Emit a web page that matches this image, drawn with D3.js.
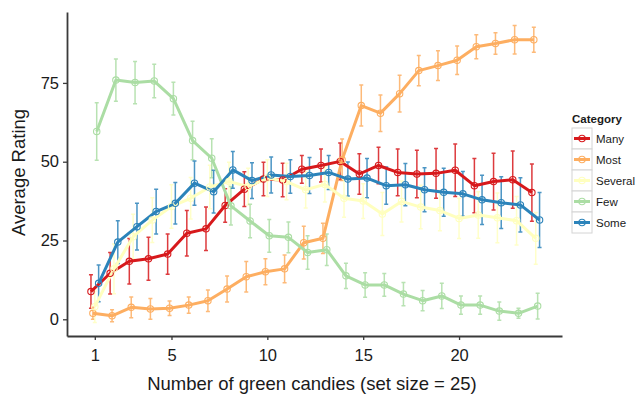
<!DOCTYPE html>
<html>

<head>
    <meta charset="utf-8" />
    <title>Green candies</title>
    <script src="https://d3js.org/d3.v7.min.js"></script>
</head>

<body style="margin:0; background:#fff;">
    <style>
        text {
            font-family: "Liberation Sans", Arial, sans-serif;
        }
    </style>
    <div class="chart"></div>

    <script>
        // x values (number of green candies)
        var candies = [1, 2, 3, 4, 5, 6, 7, 8, 9, 10, 11, 12, 13, 14, 15, 16, 17, 18, 19, 20, 21, 22, 23, 24];
        var xTicks = [1, 5, 10, 15, 20];
        var yTicks = [0, 25, 50, 75];

        var categories = ["Many", "Most", "Several", "Few", "Some"];
        var colors = ["#d7191c", "#fdae61", "#ffffbf", "#abdda4", "#2b83ba"];

        // mean ratings
        var many = [8.8, 14.6, 18.4, 19.2, 20.7, 27.3, 28.7, 36.1, 41.3, 44.5, 44.2, 47.6, 48.8, 50.1, 46.1, 48.8, 46.6, 46.1, 46.3, 47.3, 42.4, 43.7, 44.3, 40.2];
        var most = [1.9, 1.1, 3.8, 3.3, 3.5, 4.5, 5.9, 9.6, 13.5, 15.1, 16.0, 24.3, 25.7, 50.6, 67.8, 65.4, 71.6, 78.9, 80.5, 82.2, 86.5, 87.5, 88.7, 88.7];
        var several = [4.0, 16.0, 26.2, 31.5, 35.8, 38.4, 42.0, 43.7, 42.1, 44.8, 43.7, 41.1, 42.8, 38.4, 37.5, 33.4, 37.4, 35.6, 34.5, 32.0, 33.1, 32.2, 31.3, 25.7];
        var few = [59.6, 75.9, 75.1, 75.6, 70.0, 56.7, 51.1, 36.0, 31.2, 26.5, 26.0, 21.2, 22.1, 13.8, 10.9, 10.9, 8.0, 5.9, 7.4, 4.5, 4.5, 2.6, 1.9, 4.2];
        var some = [11.4, 24.5, 29.4, 34.2, 36.8, 43.2, 40.5, 47.4, 44.0, 45.8, 45.3, 45.6, 46.6, 44.5, 44.8, 42.4, 42.7, 41.1, 40.3, 39.8, 37.9, 37.0, 36.3, 31.5];

        // error bar half-lengths
        var manyErr = [5.3, 6.6, 7.2, 6.8, 6.4, 7.2, 6.9, 5.3, 5.5, 5.3, 5.3, 4.4, 5.2, 5.8, 6.4, 5.8, 7.4, 7.5, 7.9, 8.3, 8.6, 9.0, 9.1, 9.1];
        var mostErr = [1.9, 1.9, 3.3, 3.3, 2.3, 2.6, 3.4, 4.1, 4.8, 4.1, 4.4, 5.2, 4.8, 6.6, 6.5, 5.8, 5.8, 4.8, 4.7, 4.5, 3.8, 3.4, 4.5, 4.0];
        var severalErr = [5.0, 7.9, 7.1, 7.1, 6.9, 6.6, 6.9, 6.1, 5.8, 5.8, 5.8, 5.8, 5.6, 6.0, 5.5, 6.8, 6.5, 6.9, 6.4, 6.4, 7.4, 7.9, 7.7, 8.2];
        var fewErr = [9.1, 6.7, 6.7, 5.3, 5.2, 6.1, 6.2, 6.1, 5.3, 5.2, 4.9, 5.3, 5.0, 4.0, 3.9, 3.6, 3.7, 3.2, 4.0, 2.9, 2.9, 2.9, 1.6, 4.1];
        var someErr = [5.8, 6.8, 7.4, 7.1, 6.6, 7.0, 6.8, 5.8, 5.7, 5.7, 5.3, 5.7, 5.4, 5.4, 6.2, 5.9, 6.7, 7.0, 7.6, 7.1, 7.8, 8.2, 8.6, 8.7];

        var means = [many, most, several, few, some];
        var errs = [manyErr, mostErr, severalErr, fewErr, someErr];

        // building one table of points per category (dodged a bit along x)
        var series = categories.map(function (name, k) {
            return {
                name: name,
                color: colors[k],
                points: candies.map(function (c, i) {
                    return { x: c + (k - 2) * 0.1, y: means[k][i], e: errs[k][i] };
                })
            };
        });

        const w = 635;
        const h = 395;

        let svg = d3.select('.chart')
            .append('svg')
            .attr('width', w)
            .attr('height', h);

        let x = d3.scaleLinear().domain([-0.45, 25.37]).range([67, 562]);
        let y = d3.scaleLinear().domain([-5.3, 97.5]).range([336, 12]);

        // axes
        let yAxis = svg.append('g')
            .attr('transform', 'translate(67,0)')
            .call(d3.axisLeft(y).tickValues(yTicks).tickSize(4).tickSizeOuter(0).tickPadding(4));
        let xAxis = svg.append('g')
            .attr('transform', 'translate(0,336)')
            .call(d3.axisBottom(x).tickValues(xTicks).tickSize(4).tickSizeOuter(0).tickPadding(9));

        [xAxis, yAxis].forEach(function (a) {
            a.select('.domain').attr('stroke', '#3a3a3a').attr('stroke-width', 1.8);
            a.selectAll('.tick line').attr('stroke', '#3a3a3a').attr('stroke-width', 1.3);
            a.selectAll('.tick text')
                .attr('fill', '#1a1a1a')
                .style('font-size', '16.5px')
                .style('font-family', '"Liberation Sans", Arial, sans-serif');
        });

        // axis titles
        svg.append('text')
            .attr('x', 312)
            .attr('y', 389.5)
            .attr('text-anchor', 'middle')
            .attr('fill', '#1a1a1a')
            .style('font-size', '18.5px')
            .text('Number of green candies (set size = 25)');

        svg.append('text')
            .attr('transform', 'translate(25,172.5) rotate(-90)')
            .attr('text-anchor', 'middle')
            .attr('fill', '#1a1a1a')
            .style('font-size', '18.5px')
            .text('Average Rating');

        // error bars first
        let bars = svg.append('g')
            .selectAll('g')
            .data(series)
            .enter()
            .append('g')
            .attr('stroke', d => d.color)
            .attr('stroke-width', 1.5)
            .attr('stroke-opacity', 0.85);

        bars.selectAll('path')
            .data(d => d.points)
            .enter()
            .append('path')
            .attr('fill', 'none')
            .attr('d', function (p) {
                let cx = x(p.x), top = y(p.y + p.e), bot = y(p.y - p.e);
                return 'M' + (cx - 2) + ',' + top + 'H' + (cx + 2) +
                    'M' + cx + ',' + top + 'V' + bot +
                    'M' + (cx - 2) + ',' + bot + 'H' + (cx + 2);
            });

        // lines
        let line = d3.line()
            .x(p => x(p.x))
            .y(p => y(p.y));

        svg.append('g')
            .selectAll('path')
            .data(series)
            .enter()
            .append('path')
            .attr('d', d => line(d.points))
            .attr('fill', 'none')
            .attr('stroke', d => d.color)
            .attr('stroke-width', 3)
            .attr('stroke-linejoin', 'round');

        // open circles
        let dots = svg.append('g')
            .selectAll('g')
            .data(series)
            .enter()
            .append('g')
            .attr('stroke', d => d.color);

        dots.selectAll('circle')
            .data(d => d.points)
            .enter()
            .append('circle')
            .attr('cx', p => x(p.x))
            .attr('cy', p => y(p.y))
            .attr('r', 3.2)
            .attr('fill', 'none')
            .attr('stroke-width', 1.1);

        // legend
        let legend = svg.append('g');

        legend.append('text')
            .attr('x', 572)
            .attr('y', 123)
            .attr('fill', '#1a1a1a')
            .style('font-size', '11.5px')
            .style('font-weight', 'bold')
            .text('Category');

        let keys = legend.selectAll('g')
            .data(series)
            .enter()
            .append('g')
            .attr('transform', (d, i) => 'translate(572,' + (128 + i * 21) + ')');

        keys.append('rect')
            .attr('width', 20)
            .attr('height', 21)
            .attr('fill', '#fff')
            .attr('stroke', '#d4d4d4')
            .attr('stroke-width', 1);

        keys.append('line')
            .attr('x1', 2)
            .attr('x2', 18)
            .attr('y1', 10.5)
            .attr('y2', 10.5)
            .attr('stroke', d => d.color)
            .attr('stroke-width', 3);

        keys.append('circle')
            .attr('cx', 10)
            .attr('cy', 10.5)
            .attr('r', 3.2)
            .attr('fill', 'none')
            .attr('stroke', d => d.color)
            .attr('stroke-width', 1.1);

        keys.append('text')
            .attr('x', 24)
            .attr('y', 14.5)
            .attr('fill', '#1a1a1a')
            .style('font-size', '11.5px')
            .text(d => d.name);
    </script>

</body>

</html>
